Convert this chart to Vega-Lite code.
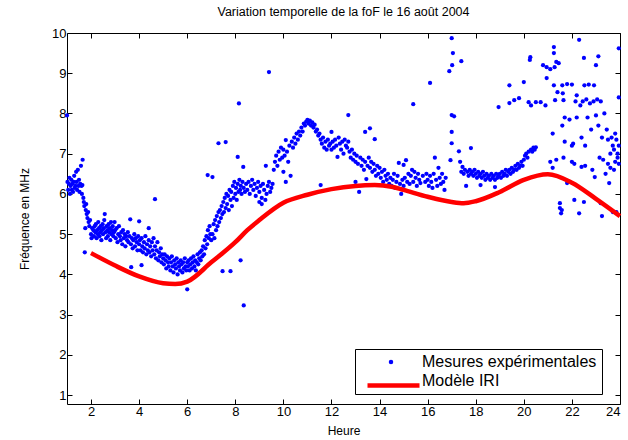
{
  "$schema": "https://vega.github.io/schema/vega-lite/v6.json",
  "width": 553,
  "height": 371,
  "autosize": {"type": "none"},
  "padding": {"left": 67, "top": 33, "right": 8, "bottom": 36},
  "config": {
    "font": "Liberation Sans",
    "view": {"stroke": "#000000", "strokeWidth": 1},
    "axis": {"grid": false, "domain": false, "tickColor": "#000000", "tickSize": -5, "labelColor": "#000000", "labelFontSize": 13, "labelFont": "Liberation Sans", "titleFont": "Liberation Sans", "titleFontWeight": "normal", "titleColor": "#000000", "titleFontSize": 12}
  },
  "title": {"text": "Variation temporelle de la foF le 16 août 2004", "fontSize": 12.5, "fontWeight": "normal", "font": "Liberation Sans", "color": "#000000", "offset": 9},
  "datasets": {
    "mes": [
{"h":1.0,"f":7.95},{"h":1.02,"f":6.3},{"h":1.05,"f":6.1},{"h":1.08,"f":6.25},{"h":1.1,"f":6.4},{"h":1.12,"f":6.0},{"h":1.15,"f":6.2},{"h":1.18,"f":6.35},{"h":1.2,"f":6.1},{"h":1.22,"f":6.25},{"h":1.25,"f":6.05},{"h":1.28,"f":6.3},{"h":1.3,"f":6.45},{"h":1.32,"f":6.15},{"h":1.35,"f":6.2},{"h":1.38,"f":6.55},{"h":1.4,"f":6.3},{"h":1.42,"f":6.1},{"h":1.45,"f":6.6},{"h":1.48,"f":6.2},{"h":1.5,"f":6.35},{"h":1.52,"f":6.05},{"h":1.55,"f":6.25},{"h":1.58,"f":6.7},{"h":1.6,"f":6.2},{"h":1.62,"f":6.0},{"h":1.65,"f":6.85},{"h":1.64,"f":6.22},{"h":1.68,"f":5.9},{"h":1.7,"f":5.8},{"h":1.72,"f":5.7},{"h":1.74,"f":4.55},{"h":1.76,"f":5.15},{"h":1.78,"f":5.6},{"h":1.8,"f":5.75},{"h":1.82,"f":5.5},{"h":1.85,"f":5.4},{"h":1.88,"f":5.55},{"h":1.9,"f":5.3},{"h":1.93,"f":5.2},{"h":1.96,"f":5.35},{"h":2.0,"f":5.0},{"h":2.02,"f":4.9},{"h":2.05,"f":5.15},
{"h":2.1,"f":5.1},{"h":2.12,"f":4.95},{"h":2.15,"f":5.2},{"h":2.18,"f":5.05},{"h":2.2,"f":5.25},{"h":2.23,"f":4.9},{"h":2.25,"f":5.1},{"h":2.28,"f":5.0},{"h":2.3,"f":5.3},{"h":2.33,"f":5.15},{"h":2.35,"f":4.95},{"h":2.38,"f":5.05},{"h":2.4,"f":5.2},{"h":2.43,"f":4.85},{"h":2.45,"f":5.1},{"h":2.48,"f":5.25},{"h":2.5,"f":5.0},{"h":2.53,"f":5.15},{"h":2.55,"f":5.35},{"h":2.57,"f":5.5},{"h":2.6,"f":5.05},{"h":2.63,"f":4.9},{"h":2.65,"f":5.2},{"h":2.68,"f":5.1},{"h":2.7,"f":4.95},{"h":2.73,"f":5.25},{"h":2.75,"f":5.05},{"h":2.78,"f":5.15},{"h":2.8,"f":4.85},{"h":2.83,"f":5.3},{"h":2.85,"f":5.0},{"h":2.88,"f":5.1},{"h":2.9,"f":5.2},{"h":2.93,"f":4.95},{"h":2.95,"f":5.05},{"h":2.98,"f":5.3},
{"h":3.0,"f":5.1},{"h":3.03,"f":4.9},{"h":3.06,"f":5.15},{"h":3.1,"f":4.8},{"h":3.13,"f":5.0},{"h":3.16,"f":5.2},{"h":3.2,"f":4.95},{"h":3.23,"f":4.85},{"h":3.26,"f":5.05},{"h":3.3,"f":4.75},{"h":3.33,"f":5.1},{"h":3.36,"f":4.9},{"h":3.4,"f":5.0},{"h":3.43,"f":4.7},{"h":3.46,"f":4.95},{"h":3.5,"f":4.85},{"h":3.53,"f":5.05},{"h":3.56,"f":4.8},{"h":3.6,"f":4.95},{"h":3.63,"f":5.37},{"h":3.66,"f":4.75},{"h":3.67,"f":4.18},{"h":3.7,"f":4.9},{"h":3.73,"f":4.65},{"h":3.76,"f":4.85},{"h":3.8,"f":5.0},{"h":3.83,"f":4.7},{"h":3.86,"f":4.9},{"h":3.9,"f":4.8},{"h":3.93,"f":4.6},{"h":3.96,"f":4.95},{"h":4.0,"f":5.32},{"h":4.0,"f":4.75},
{"h":4.03,"f":4.85},{"h":4.06,"f":4.6},{"h":4.1,"f":4.23},{"h":4.1,"f":4.9},{"h":4.13,"f":4.7},{"h":4.16,"f":4.55},{"h":4.2,"f":4.8},{"h":4.23,"f":4.65},{"h":4.26,"f":4.95},{"h":4.3,"f":4.5},{"h":4.33,"f":4.75},{"h":4.36,"f":4.6},{"h":4.4,"f":5.15},{"h":4.4,"f":4.85},{"h":4.43,"f":4.55},{"h":4.46,"f":4.7},{"h":4.5,"f":4.45},{"h":4.53,"f":4.8},{"h":4.56,"f":4.6},{"h":4.6,"f":4.9},{"h":4.63,"f":4.5},{"h":4.66,"f":5.87},{"h":4.66,"f":4.7},{"h":4.7,"f":4.4},{"h":4.73,"f":4.6},{"h":4.76,"f":4.8},{"h":4.8,"f":4.35},{"h":4.83,"f":4.55},{"h":4.86,"f":4.45},{"h":4.9,"f":4.65},{"h":4.93,"f":4.3},{"h":4.96,"f":4.5},
{"h":5.0,"f":4.4},{"h":5.03,"f":4.25},{"h":5.06,"f":4.5},{"h":5.1,"f":4.35},{"h":5.13,"f":4.15},{"h":5.16,"f":4.45},{"h":5.2,"f":4.3},{"h":5.23,"f":4.2},{"h":5.26,"f":4.4},{"h":5.3,"f":4.1},{"h":5.33,"f":4.3},{"h":5.36,"f":4.45},{"h":5.4,"f":4.2},{"h":5.43,"f":4.05},{"h":5.46,"f":4.35},{"h":5.5,"f":4.25},{"h":5.53,"f":4.15},{"h":5.56,"f":4.4},{"h":5.6,"f":4.0},{"h":5.63,"f":4.3},{"h":5.66,"f":4.2},{"h":5.7,"f":4.1},{"h":5.73,"f":4.35},{"h":5.76,"f":4.25},{"h":5.8,"f":4.05},{"h":5.83,"f":4.3},{"h":5.86,"f":4.15},{"h":5.9,"f":4.4},{"h":5.93,"f":4.2},{"h":5.96,"f":4.1},{"h":6.0,"f":3.63},{"h":6.0,"f":4.3},
{"h":6.03,"f":4.2},{"h":6.06,"f":4.35},{"h":6.1,"f":4.1},{"h":6.13,"f":4.25},{"h":6.16,"f":4.4},{"h":6.2,"f":4.15},{"h":6.23,"f":4.3},{"h":6.26,"f":4.45},{"h":6.3,"f":4.2},{"h":6.33,"f":4.35},{"h":6.36,"f":4.1},{"h":6.4,"f":4.3},{"h":6.43,"f":4.5},{"h":6.46,"f":4.25},{"h":6.5,"f":4.4},{"h":6.53,"f":4.55},{"h":6.56,"f":4.35},{"h":6.6,"f":4.6},{"h":6.63,"f":4.45},{"h":6.66,"f":4.7},{"h":6.7,"f":4.5},{"h":6.73,"f":4.85},{"h":6.76,"f":4.65},{"h":6.8,"f":4.95},{"h":6.83,"f":4.75},{"h":6.85,"f":6.47},{"h":6.86,"f":5.1},{"h":6.9,"f":4.9},{"h":6.93,"f":5.2},{"h":6.96,"f":5.0},{"h":7.0,"f":4.85},{"h":7.05,"f":6.42},
{"h":7.05,"f":5.0},{"h":7.1,"f":5.25},{"h":7.13,"f":4.9},{"h":7.16,"f":5.35},{"h":7.2,"f":5.1},{"h":7.23,"f":5.45},{"h":7.26,"f":5.2},{"h":7.3,"f":5.55},{"h":7.3,"f":7.26},{"h":7.33,"f":5.3},{"h":7.36,"f":5.6},{"h":7.4,"f":5.4},{"h":7.43,"f":5.7},{"h":7.46,"f":5.5},{"h":7.47,"f":4.08},{"h":7.5,"f":5.8},{"h":7.53,"f":5.55},{"h":7.56,"f":5.9},{"h":7.6,"f":7.29},{"h":7.6,"f":5.65},{"h":7.63,"f":6.0},{"h":7.66,"f":5.75},{"h":7.7,"f":5.95},{"h":7.73,"f":5.6},{"h":7.76,"f":6.1},{"h":7.8,"f":4.08},{"h":7.8,"f":5.85},{"h":7.83,"f":6.05},{"h":7.86,"f":5.7},{"h":7.9,"f":6.2},{"h":7.93,"f":5.9},{"h":7.96,"f":6.3},{"h":8.0,"f":6.0},{"h":8.03,"f":6.15},{"h":8.06,"f":5.85},{"h":8.1,"f":6.92},{"h":8.1,"f":6.25},{"h":8.13,"f":6.05},{"h":8.15,"f":8.25},{"h":8.17,"f":6.35},{"h":8.2,"f":6.1},{"h":8.22,"f":4.35},{"h":8.23,"f":6.2},{"h":8.26,"f":6.0},{"h":8.3,"f":6.3},{"h":8.33,"f":6.67},{"h":8.35,"f":3.23},{"h":8.35,"f":6.15},{"h":8.4,"f":6.05},{"h":8.45,"f":6.25},{"h":8.5,"f":6.1},{"h":8.55,"f":6.3},{"h":8.6,"f":6.0},{"h":8.65,"f":6.2},{"h":8.7,"f":6.35},{"h":8.75,"f":6.1},{"h":8.8,"f":6.25},{"h":8.85,"f":5.95},{"h":8.9,"f":6.15},{"h":8.95,"f":6.3},{"h":9.0,"f":6.05},{"h":9.0,"f":5.8},{"h":9.05,"f":6.2},{"h":9.1,"f":5.9},{"h":9.1,"f":5.75},{"h":9.15,"f":6.25},{"h":9.2,"f":6.1},{"h":9.25,"f":5.85},{"h":9.27,"f":6.7},{"h":9.3,"f":6.0},{"h":9.35,"f":6.2},{"h":9.4,"f":9.03},{"h":9.4,"f":6.3},{"h":9.45,"f":6.05},{"h":9.5,"f":6.15},{"h":9.55,"f":6.25},
{"h":9.6,"f":6.6},{"h":9.65,"f":6.8},{"h":9.7,"f":6.95},{"h":9.75,"f":6.7},{"h":9.8,"f":7.05},{"h":9.85,"f":6.85},{"h":9.9,"f":7.15},{"h":9.95,"f":6.9},{"h":10.0,"f":7.1},{"h":10.0,"f":6.55},{"h":10.05,"f":6.95},{"h":10.1,"f":7.34},{"h":10.1,"f":6.3},{"h":10.15,"f":7.05},{"h":10.2,"f":6.8},{"h":10.25,"f":7.2},{"h":10.3,"f":6.45},{"h":10.35,"f":7.3},{"h":10.4,"f":7.15},{"h":10.45,"f":7.4},{"h":10.5,"f":7.25},{"h":10.55,"f":7.5},{"h":10.6,"f":7.35},{"h":10.65,"f":7.55},{"h":10.7,"f":7.45},{"h":10.75,"f":7.65},{"h":10.8,"f":7.55},{"h":10.85,"f":7.75},{"h":10.9,"f":7.7},{"h":10.95,"f":7.8},{"h":11.0,"f":7.84},{"h":11.05,"f":7.75},{"h":11.1,"f":7.82},{"h":11.15,"f":7.7},{"h":11.2,"f":7.78},{"h":11.25,"f":7.65},{"h":11.3,"f":7.72},{"h":11.35,"f":7.55},{"h":11.4,"f":7.6},{"h":11.45,"f":7.45},{"h":11.5,"f":7.5},{"h":11.55,"f":6.22},{"h":11.55,"f":7.35},{"h":11.6,"f":7.25},{"h":11.65,"f":7.4},{"h":11.7,"f":7.15},{"h":11.75,"f":7.3},{"h":11.8,"f":7.1},{"h":11.85,"f":7.35},{"h":11.9,"f":7.2},{"h":11.95,"f":7.25},{"h":12.0,"f":7.54},{"h":12.0,"f":7.1},
{"h":12.05,"f":7.3},{"h":12.1,"f":7.15},{"h":12.15,"f":7.35},{"h":12.2,"f":7.2},{"h":12.25,"f":6.92},{"h":12.3,"f":7.4},{"h":12.35,"f":7.25},{"h":12.4,"f":7.1},{"h":12.45,"f":7.3},{"h":12.5,"f":7.0},{"h":12.55,"f":7.35},{"h":12.6,"f":7.2},{"h":12.65,"f":7.15},{"h":12.7,"f":7.96},{"h":12.7,"f":7.3},{"h":12.75,"f":7.05},{"h":12.8,"f":6.9},{"h":12.85,"f":7.1},{"h":12.9,"f":6.85},{"h":12.95,"f":7.0},{"h":13.0,"f":6.8},{"h":13.0,"f":6.3},{"h":13.05,"f":6.95},{"h":13.1,"f":6.75},{"h":13.15,"f":6.05},{"h":13.2,"f":6.9},{"h":13.25,"f":6.7},{"h":13.3,"f":6.85},{"h":13.35,"f":6.6},{"h":13.4,"f":7.54},{"h":13.4,"f":6.8},{"h":13.45,"f":6.37},{"h":13.5,"f":6.7},{"h":13.55,"f":6.9},{"h":13.6,"f":7.63},{"h":13.6,"f":6.65},{"h":13.65,"f":6.8},{"h":13.7,"f":6.55},{"h":13.75,"f":6.75},{"h":13.8,"f":7.36},{"h":13.8,"f":6.6},{"h":13.85,"f":6.45},{"h":13.9,"f":6.7},{"h":13.95,"f":6.5},
{"h":14.0,"f":6.65},{"h":14.05,"f":6.4},{"h":14.1,"f":6.55},{"h":14.15,"f":6.3},{"h":14.2,"f":6.6},{"h":14.25,"f":6.45},{"h":14.3,"f":6.35},{"h":14.35,"f":6.5},{"h":14.4,"f":6.25},{"h":14.45,"f":6.4},{"h":14.5,"f":6.2},{"h":14.55,"f":6.35},{"h":14.6,"f":6.5},{"h":14.65,"f":6.15},{"h":14.7,"f":6.3},{"h":14.75,"f":6.45},{"h":14.8,"f":6.77},{"h":14.85,"f":6.25},{"h":14.9,"f":6.0},{"h":14.95,"f":6.35},{"h":15.0,"f":6.72},{"h":15.0,"f":6.2},{"h":15.05,"f":6.4},{"h":15.1,"f":6.84},{"h":15.15,"f":6.3},{"h":15.2,"f":6.5},{"h":15.25,"f":6.25},{"h":15.3,"f":6.45},{"h":15.35,"f":6.6},{"h":15.4,"f":8.23},{"h":15.4,"f":6.3},{"h":15.45,"f":6.55},{"h":15.5,"f":6.4},{"h":15.55,"f":6.2},{"h":15.6,"f":6.5},{"h":15.65,"f":6.35},{"h":15.7,"f":6.27},{"h":15.8,"f":6.45},{"h":15.9,"f":6.3},{"h":15.95,"f":6.5},
{"h":16.0,"f":6.35},{"h":16.05,"f":6.2},{"h":16.1,"f":8.76},{"h":16.1,"f":6.45},{"h":16.15,"f":6.3},{"h":16.2,"f":6.15},{"h":16.25,"f":6.5},{"h":16.3,"f":6.9},{"h":16.35,"f":6.35},{"h":16.4,"f":6.2},{"h":16.45,"f":6.65},{"h":16.5,"f":6.4},{"h":16.55,"f":6.25},{"h":16.6,"f":6.5},{"h":16.65,"f":6.3},{"h":16.7,"f":6.1},{"h":16.75,"f":6.4},{"h":16.9,"f":9.05},{"h":16.95,"f":6.84},{"h":17.0,"f":9.87},{"h":17.0,"f":7.96},{"h":17.0,"f":7.54},{"h":17.0,"f":7.26},{"h":17.02,"f":9.2},{"h":17.05,"f":9.5},{"h":17.1,"f":7.93},{"h":17.3,"f":7.06},{"h":17.35,"f":6.8},{"h":17.4,"f":9.3},{"h":17.4,"f":6.55},{"h":17.45,"f":6.67},{"h":17.5,"f":6.5},{"h":17.55,"f":6.6},{"h":17.6,"f":6.2},{"h":17.65,"f":6.55},{"h":17.7,"f":6.45},{"h":17.75,"f":6.6},{"h":17.8,"f":7.14},{"h":17.8,"f":6.5},{"h":17.85,"f":6.55},{"h":17.9,"f":6.45},{"h":17.95,"f":6.6},
{"h":18.0,"f":6.5},{"h":18.05,"f":6.4},{"h":18.1,"f":6.55},{"h":18.15,"f":6.45},{"h":18.2,"f":6.22},{"h":18.2,"f":6.5},{"h":18.25,"f":6.4},{"h":18.3,"f":6.55},{"h":18.35,"f":6.45},{"h":18.4,"f":6.35},{"h":18.45,"f":6.5},{"h":18.5,"f":6.4},{"h":18.55,"f":6.45},{"h":18.6,"f":6.35},{"h":18.65,"f":6.5},{"h":18.7,"f":6.4},{"h":18.75,"f":6.45},{"h":18.8,"f":6.17},{"h":18.8,"f":6.35},{"h":18.85,"f":6.5},{"h":18.9,"f":6.4},{"h":18.95,"f":8.16},{"h":18.95,"f":6.45},{"h":19.0,"f":6.5},{"h":19.05,"f":6.4},{"h":19.1,"f":6.55},{"h":19.15,"f":6.45},{"h":19.2,"f":6.5},{"h":19.25,"f":6.6},{"h":19.3,"f":6.45},{"h":19.35,"f":6.55},{"h":19.4,"f":8.26},{"h":19.4,"f":8.7},{"h":19.4,"f":6.6},{"h":19.45,"f":6.5},{"h":19.5,"f":6.65},{"h":19.55,"f":6.55},{"h":19.6,"f":8.33},{"h":19.6,"f":6.6},{"h":19.65,"f":6.7},{"h":19.7,"f":6.6},{"h":19.75,"f":6.75},{"h":19.8,"f":8.38},{"h":19.8,"f":6.65},{"h":19.85,"f":6.7},{"h":19.9,"f":6.8},{"h":19.95,"f":6.7},{"h":20.0,"f":8.78},{"h":20.0,"f":6.85},{"h":20.05,"f":6.95},{"h":20.1,"f":7.0},{"h":20.15,"f":6.9},{"h":20.2,"f":7.05},{"h":20.2,"f":8.28},{"h":20.25,"f":9.33},{"h":20.27,"f":9.4},{"h":20.3,"f":7.1},{"h":20.3,"f":8.2},{"h":20.35,"f":7.05},{"h":20.4,"f":7.15},{"h":20.45,"f":7.1},{"h":20.5,"f":7.16},{"h":20.5,"f":8.28},
{"h":20.7,"f":8.28},{"h":20.8,"f":9.2},{"h":20.9,"f":8.2},{"h":20.95,"f":8.88},{"h":20.95,"f":9.15},{"h":21.1,"f":9.1},{"h":21.1,"f":6.8},{"h":21.2,"f":6.65},{"h":21.2,"f":7.5},{"h":21.25,"f":9.65},{"h":21.25,"f":9.5},{"h":21.25,"f":8.7},{"h":21.28,"f":9.15},{"h":21.3,"f":8.33},{"h":21.35,"f":6.85},{"h":21.35,"f":9.28},{"h":21.4,"f":8.53},{"h":21.45,"f":9.25},{"h":21.5,"f":5.77},{"h":21.5,"f":5.65},{"h":21.55,"f":5.52},{"h":21.58,"f":5.6},{"h":21.6,"f":7.7},{"h":21.6,"f":8.7},{"h":21.62,"f":8.5},{"h":21.65,"f":6.9},{"h":21.65,"f":8.33},{"h":21.7,"f":7.9},{"h":21.7,"f":7.3},{"h":21.8,"f":6.27},{"h":21.8,"f":8.73},{"h":21.9,"f":7.85},{"h":22.0,"f":7.2},{"h":22.0,"f":8.72},{"h":22.0,"f":6.8},{"h":22.05,"f":7.25},{"h":22.1,"f":5.85},{"h":22.1,"f":6.75},{"h":22.15,"f":8.3},{"h":22.2,"f":8.45},{"h":22.2,"f":7.9},{"h":22.3,"f":9.83},{"h":22.3,"f":5.52},{"h":22.35,"f":8.2},{"h":22.4,"f":7.4},{"h":22.4,"f":6.67},{"h":22.45,"f":8.3},{"h":22.5,"f":9.38},{"h":22.5,"f":5.8},{"h":22.52,"f":8.7},{"h":22.55,"f":7.2},{"h":22.55,"f":6.7},{"h":22.6,"f":8.35},{"h":22.65,"f":7.9},{"h":22.7,"f":8.72},{"h":22.75,"f":8.25},{"h":22.8,"f":7.6},{"h":22.85,"f":6.6},{"h":22.9,"f":8.3},{"h":22.92,"f":8.7},{"h":22.95,"f":6.42},{"h":23.0,"f":9.2},{"h":23.0,"f":7.95},{"h":23.05,"f":8.35},{"h":23.1,"f":9.42},{"h":23.1,"f":7.7},{"h":23.15,"f":6.9},{"h":23.2,"f":5.77},{"h":23.2,"f":8.3},{"h":23.25,"f":5.45},{"h":23.25,"f":7.4},{"h":23.3,"f":6.85},{"h":23.35,"f":8.0},{"h":23.4,"f":6.5},{"h":23.45,"f":7.6},{"h":23.5,"f":6.75},{"h":23.5,"f":7.35},{"h":23.55,"f":6.27},{"h":23.6,"f":6.65},{"h":23.6,"f":7.0},{"h":23.65,"f":7.4},{"h":23.7,"f":5.55},{"h":23.7,"f":7.2},{"h":23.75,"f":7.1},{"h":23.75,"f":6.6},{"h":23.8,"f":6.8},{"h":23.8,"f":7.5},{"h":23.85,"f":5.55},{"h":23.85,"f":7.35},{"h":23.9,"f":7.0},{"h":23.9,"f":6.9},{"h":23.95,"f":9.62},{"h":23.95,"f":8.4},{"h":23.95,"f":6.75},{"h":23.95,"f":7.2}
    ],
    "iri": [
{"h":2.0,"f":4.53},{"h":3.0,"f":4.22},{"h":4.0,"f":3.95},{"h":5.0,"f":3.78},{"h":5.5,"f":3.76},{"h":6.0,"f":3.82},{"h":7.0,"f":4.3},{"h":8.0,"f":4.8},{"h":8.5,"f":5.1},{"h":9.0,"f":5.35},{"h":10.0,"f":5.78},{"h":11.0,"f":5.98},{"h":12.0,"f":6.12},{"h":13.0,"f":6.2},{"h":13.8,"f":6.22},{"h":14.5,"f":6.18},{"h":15.0,"f":6.1},{"h":16.0,"f":5.93},{"h":17.0,"f":5.8},{"h":17.5,"f":5.77},{"h":18.0,"f":5.82},{"h":19.0,"f":6.05},{"h":20.0,"f":6.35},{"h":21.0,"f":6.49},{"h":22.0,"f":6.28},{"h":23.0,"f":5.88},{"h":24.0,"f":5.45}
    ]
  },
  "layer": [
    {
      "data": {"name": "mes"},
      "mark": {"type": "point", "filled": true, "shape": "circle", "size": 18, "opacity": 1},
      "encoding": {
        "x": {"field": "h", "type": "quantitative", "scale": {"domain": [1, 24], "nice": false, "zero": false},
              "axis": {"orient": "bottom", "values": [2,4,6,8,10,12,14,16,18,20,22,24], "title": "Heure", "labelPadding": 6, "titlePadding": 7}},
        "y": {"field": "f", "type": "quantitative", "scale": {"domain": [0.78, 10], "nice": false, "zero": false},
              "axis": {"orient": "left", "values": [1,2,3,4,5,6,7,8,9,10], "title": "Fréquence en MHz", "labelPadding": 6, "titlePadding": 20}},
        "color": {"datum": "Mesures expérimentales", "type": "nominal",
          "scale": {"domain": ["Mesures expérimentales", "Modèle IRI"], "range": ["#0000ff", "#ffffff"]},
          "legend": {
            "title": null, "orient": "none", "legendX": 288, "legendY": 316,
            "fillColor": "#ffffff", "strokeColor": "#000000", "padding": 5,
            "labelFontSize": 16, "labelFont": "Liberation Sans", "labelColor": "#000000", "labelOffset": 23, "labelLimit": 400,
            "symbolSize": 20, "symbolOffset": 23, "rowPadding": 3, "symbolType": "circle", "symbolOpacity": 1
          }}
      }
    },
    {
      "data": {"name": "iri"},
      "mark": {"type": "line", "strokeWidth": 4.5, "interpolate": "monotone"},
      "encoding": {
        "x": {"field": "h", "type": "quantitative", "scale": {"domain": [1, 24], "nice": false, "zero": false},
              "axis": {"orient": "top", "values": [2,4,6,8,10,12,14,16,18,20,22,24], "labels": false, "title": null}},
        "y": {"field": "f", "type": "quantitative", "scale": {"domain": [0.78, 10], "nice": false, "zero": false},
              "axis": {"orient": "right", "values": [1,2,3,4,5,6,7,8,9,10], "labels": false, "title": null}},
        "stroke": {"datum": "Modèle IRI", "type": "nominal",
          "scale": {"domain": ["Modèle IRI"], "range": ["#ff0000"]},
          "legend": {
            "title": null, "orient": "none", "legendX": 298, "legendY": 324, "padding": 0,
            "symbolType": "stroke", "symbolSize": 2704, "symbolStrokeWidth": 4.5, "symbolOffset": 0,
            "labelExpr": "''", "labelOpacity": 0, "labelFontSize": 10
          }}
      }
    }
  ],
  "resolve": {"axis": {"x": "independent", "y": "independent"}}
}
